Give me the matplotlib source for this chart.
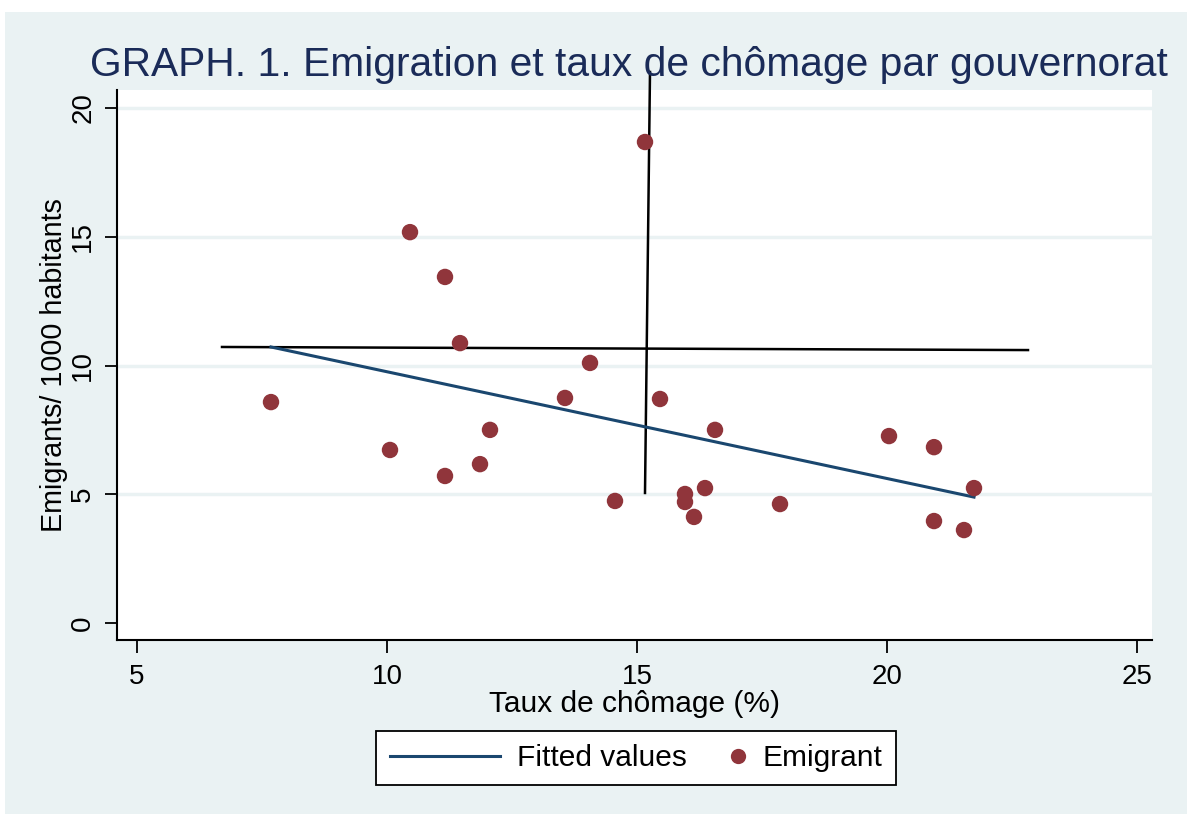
import matplotlib
matplotlib.use("Agg")
from matplotlib import pyplot as plt
from matplotlib.patches import Rectangle
from matplotlib.lines import Line2D
from matplotlib.legend_handler import HandlerLine2D
from matplotlib import font_manager

# taux de chomage (%) et emigrants / 1000 habitants, par gouvernorat
chomage = [7.68, 10.06, 10.46, 11.16, 11.16, 11.46, 11.86, 12.06, 13.56, 14.06,
           14.56, 15.16, 15.46, 15.96, 15.96, 16.14, 16.36, 16.56, 17.86, 20.04,
           20.94, 20.94, 21.54, 21.74]
emigrants = [8.58, 6.72, 15.18, 13.44, 5.71, 10.87, 6.17, 7.50, 8.74, 10.10,
             4.74, 18.68, 8.70, 5.01, 4.70, 4.12, 5.24, 7.50, 4.62, 7.26,
             6.83, 3.96, 3.61, 5.24]

# droite ajustee
fit_x = [7.68, 21.74]
fit_y = [10.72, 4.89]

# deux traits noirs ajoutes a la main
hline_x = [6.7, 22.82]
hline_y = [10.72, 10.60]
vline_x = [15.16, 15.26]
vline_y = [5.05, 21.4]

xticks = [5, 10, 15, 20, 25]
yticks = [0, 5, 10, 15, 20]

names = {f.name for f in font_manager.fontManager.ttflist}
fam = 'Liberation Sans Narrow' if 'Liberation Sans Narrow' in names else 'Liberation Sans'
plt.rcParams['font.family'] = [fam, 'DejaVu Sans']


class RightMarker(HandlerLine2D):
    # marqueur colle a droite de la zone de la poignee, comme dans Stata
    def get_xdata(self, legend, xdescent, ydescent, width, height, fontsize):
        xd = [width * 0.86 - xdescent, width - xdescent]
        return xd, [width * 0.93 - xdescent]


bg = '#eaf2f3'
fig = plt.figure(figsize=(11.87, 8.14), dpi=100)
fig.patch.set_facecolor('white')
fig.add_artist(Rectangle((5 / 1187, 0), 1, 1 - 12 / 814, transform=fig.transFigure,
                         facecolor=bg, edgecolor='none', zorder=-10))

ax = fig.add_axes([117 / 1187, 1 - 640 / 814, (1152 - 117) / 1187, (640 - 90) / 814])
ax.set_facecolor('white')
ax.set_xlim(4.6, 25.3)
ax.set_ylim(-0.66, 20.7)

for yv in yticks[1:]:
    ax.axhline(yv, color=bg, linewidth=2.5, zorder=0)

ax.plot(hline_x, hline_y, color='black', linewidth=1.8, zorder=3)
ax.plot(vline_x, vline_y, color='black', linewidth=1.8, zorder=3, clip_on=False)
ax.plot(fit_x, fit_y, color='#1a476f', linewidth=2.2, zorder=4)
ax.scatter(chomage, emigrants, s=140, color='#90353b', edgecolors='none', zorder=5)

for s in ['top', 'right']:
    ax.spines[s].set_visible(False)
for s in ['left', 'bottom']:
    ax.spines[s].set_linewidth(1.5)

ax.set_xticks(xticks)
ax.set_yticks(yticks)
ax.tick_params(axis='both', length=9, width=1.3, labelsize=20)
ax.tick_params(axis='x', pad=8)
ax.tick_params(axis='y', pad=6)
for lab in ax.get_yticklabels():
    lab.set_rotation(90)
    lab.set_va('center')

ax.set_xlabel('Taux de chômage (%)', fontsize=21.5, labelpad=0)
ax.set_ylabel('Emigrants/ 1000 habitants', fontsize=20.7, labelpad=1.5)

fig.text(90 / 1187, 1 - 65 / 814, 'GRAPH. 1. Emigration et taux de chômage par gouvernorat',
         fontsize=29.3, color='#1a2b58', va='center', ha='left')

line_h = Line2D([0], [0], color='#1a476f', linewidth=2.2)
dot_h = Line2D([0], [0], marker='o', linestyle='none', markersize=11,
               markerfacecolor='#90353b', markeredgecolor='none')
leg = fig.legend([line_h, dot_h], ['Fitted values', 'Emigrant'], loc='center',
                 bbox_to_anchor=(636 / 1187, 1 - 758 / 814), ncol=2, fontsize=21.5,
                 frameon=True, fancybox=False, edgecolor='black', framealpha=1,
                 facecolor='white', handlelength=3.68, handletextpad=0.57,
                 columnspacing=-1.71, borderpad=0.45,
                 handler_map={dot_h: RightMarker(numpoints=1)})
leg.get_frame().set_linewidth(1.3)

fig.savefig('out.png', dpi=100, facecolor=fig.get_facecolor())
